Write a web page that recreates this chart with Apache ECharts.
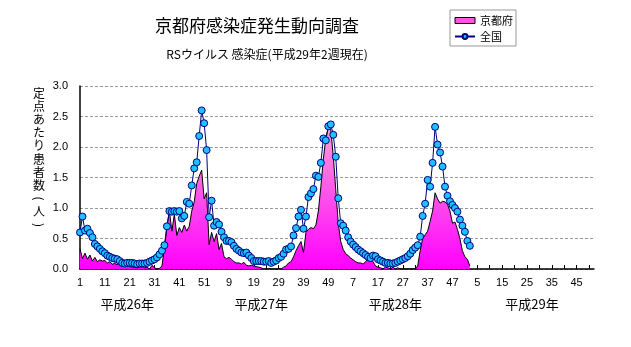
<!DOCTYPE html>
<html><head><meta charset="utf-8">
<script src="https://cdn.jsdelivr.net/npm/echarts/dist/echarts.min.js"></script>
<style>html,body{margin:0;padding:0;background:#fff}#c{width:631px;height:347px}</style>
</head><body><div id="c"></div>
<script>
// ---- data ----
const weeksPerYear = [52, 52, 52, 52];            // 平成26年..平成29年
const yearLabels = ['平成26年', '平成27年', '平成28年', '平成29年'];
const yearLabelIndex = [19, 73, 127, 182];        // category index where each year label sits
const yTicks = [0, 0.5, 1.0, 1.5, 2.0, 2.5, 3.0];
const yNameChars = ['定','点','あ','た','り','患','者','数','(','人',')'];

const national2014 = [0.60,0.86,0.63,0.66,0.59,0.52,0.41,0.37,0.33,0.29,
  0.26,0.22,0.20,0.18,0.17,0.16,0.13,0.10,0.09,0.10,
  0.10,0.10,0.09,0.08,0.09,0.09,0.09,0.10,0.12,0.14,
  0.16,0.19,0.24,0.30,0.39,0.70,0.95,0.94,0.95,0.94,
  0.95,0.83,0.87,1.10,1.07,1.37,1.65,1.75,2.18,2.60,
  2.39,1.95];
const national2015 = [0.85,1.12,0.71,0.77,0.73,0.61,0.52,0.46,0.46,0.44,
  0.38,0.33,0.30,0.27,0.26,0.27,0.22,0.18,0.13,0.13,
  0.13,0.13,0.12,0.12,0.13,0.10,0.12,0.14,0.18,0.20,
  0.25,0.32,0.33,0.37,0.55,0.67,0.86,0.97,0.66,0.86,
  1.18,1.24,1.31,1.53,1.51,1.74,2.14,2.11,2.34,2.37,
  2.20,1.84];
const national2016 = [1.16,0.75,0.71,0.63,0.52,0.45,0.40,0.36,0.32,0.29,
  0.26,0.23,0.20,0.18,0.22,0.21,0.16,0.14,0.12,0.10,
  0.10,0.09,0.09,0.10,0.12,0.14,0.16,0.18,0.21,0.25,
  0.31,0.35,0.39,0.53,0.87,1.07,1.46,1.35,1.74,2.33,
  2.04,1.91,1.68,1.35,1.20,1.11,1.05,1.00,0.94,0.81,
  0.71,0.61];
const national2017 = [0.46,0.38];

const kyoto2014 = [0.33,0.17,0.26,0.16,0.23,0.13,0.19,0.12,0.15,0.13,
  0.14,0.10,0.12,0.08,0.09,0.07,0.16,0.05,0.04,0.05,
  0.04,0.03,0.03,0.02,0.03,0.04,0.02,0.03,0.00,0.06,
  0.02,0.00,0.01,0.05,0.35,0.70,0.95,0.62,0.90,0.55,
  0.68,0.60,0.72,0.62,0.70,0.95,1.10,1.40,1.52,1.62,
  1.15,1.25];
const kyoto2015 = [0.40,0.60,0.45,0.58,0.32,0.42,0.20,0.17,0.19,0.16,
  0.12,0.10,0.10,0.08,0.11,0.06,0.05,0.06,0.05,0.04,
  0.03,0.02,0.00,0.00,0.01,0.00,0.00,0.00,0.00,0.00,
  0.03,0.05,0.10,0.12,0.20,0.30,0.38,0.45,0.27,0.60,
  0.65,0.68,0.66,0.72,0.95,1.35,1.80,2.15,2.32,2.28,
  1.85,1.30];
const kyoto2016 = [0.75,0.45,0.32,0.25,0.22,0.18,0.15,0.12,0.10,0.10,
  0.08,0.12,0.17,0.20,0.12,0.05,0.03,0.02,0.00,0.03,
  0.02,0.00,0.03,0.00,0.02,0.00,0.00,0.00,0.00,0.00,
  0.00,0.00,0.05,0.30,0.50,0.56,0.62,0.78,0.95,1.25,
  1.15,1.08,1.11,1.10,1.06,0.95,0.75,0.77,0.65,0.50,
  0.30,0.20];
const kyoto2017 = [0.16,0.05];

// ---- build ----
const categories = [];
weeksPerYear.forEach(n => { for (let w = 1; w <= n; w++) categories.push(String(w)); });
const yearAxisData = categories.map(() => '');
yearLabelIndex.forEach((idx, k) => { yearAxisData[idx] = yearLabels[k]; });
const national = [].concat(national2014, national2015, national2016, national2017);
const kyoto = [].concat(kyoto2014, kyoto2015, kyoto2016, kyoto2017);

const JP = '"Noto Sans CJK JP", "Noto Sans", sans-serif';
const yNameGraphics = yNameChars.map((ch, k) => ({
  type: 'text', x: 39, y: 93 + k * 13.2,
  rotation: (ch === '(' || ch === ')') ? -Math.PI / 2 : 0,
  style: {text: ch, font: '12px ' + JP, fill: '#000', textAlign: 'center', textVerticalAlign: 'middle'}
}));

const chart = echarts.init(document.getElementById('c'), null, {renderer: 'canvas'});
chart.setOption({
  animation: false,
  backgroundColor: '#fff',
  textStyle: {fontFamily: JP, color: '#000'},
  grid: {left: 80, right: 37, top: 86, bottom: 78, outerBoundsMode: 'none'},
  legend: {
    orient: 'vertical', left: 450, top: 10,
    padding: [5, 3, 4, 4], itemGap: 5, itemWidth: 20, itemHeight: 6,
    borderColor: '#999', borderWidth: 1, backgroundColor: '#fff',
    textStyle: {fontSize: 11, fontFamily: JP, color: '#000'},
    data: [
      {name: '京都府', icon: 'rect', itemStyle: {color: '#FF55DD', borderColor: '#000', borderWidth: 1}},
      {name: '全国'}
    ]
  },
  graphic: [
    {type: 'text', x: 257, y: 26, style: {text: '京都府感染症発生動向調査', font: '17px ' + JP, fill: '#000', textAlign: 'center', textVerticalAlign: 'middle'}},
    {type: 'text', x: 267, y: 54, style: {text: 'RSウイルス 感染症(平成29年2週現在)', font: '12px ' + JP, fill: '#000', textAlign: 'center', textVerticalAlign: 'middle'}}
  ].concat(yNameGraphics),
  xAxis: [
    {
      type: 'category', data: categories, boundaryGap: false,
      axisLine: {show: true, lineStyle: {color: '#000', width: 1.5}},
      axisTick: {show: true, inside: true, length: 4, interval: 4, lineStyle: {color: '#000'}},
      axisLabel: {interval: 9, fontSize: 11, margin: 8, color: '#000', fontFamily: 'Liberation Sans'},
      splitLine: {show: false}
    },
    {
      type: 'category', data: yearAxisData, boundaryGap: false, position: 'bottom', offset: 21,
      axisLine: {show: false}, axisTick: {show: false}, splitLine: {show: false},
      axisLabel: {interval: 0, fontSize: 13, margin: 8, color: '#000', fontFamily: JP}
    }
  ],
  yAxis: {
    type: 'value', min: yTicks[0], max: yTicks[yTicks.length - 1], interval: yTicks[1] - yTicks[0],
    axisLine: {show: true, lineStyle: {color: '#000', width: 1.5}},
    axisTick: {show: false},
    axisLabel: {formatter: v => v.toFixed(1), fontSize: 11, margin: 12, color: '#000', fontFamily: 'Liberation Sans'},
    splitLine: {show: true, lineStyle: {color: '#999', type: [3, 2], width: 1}}
  },
  series: [
    {
      name: '京都府', type: 'line', data: kyoto, symbol: 'none', z: 1,
      itemStyle: {color: '#FF55DD'},
      lineStyle: {color: '#000', width: 1},
      areaStyle: {opacity: 1, color: {type: 'linear', x: 0, y: 0, x2: 0, y2: 1,
        colorStops: [{offset: 0, color: '#FF9ED8'}, {offset: 1, color: '#FF00FF'}]}}
    },
    {
      name: '全国', type: 'line', data: national, symbol: 'circle', symbolSize: 7, showAllSymbol: true, z: 2,
      lineStyle: {color: '#000080', width: 1},
      itemStyle: {color: '#1EC0FF', borderColor: '#000080', borderWidth: 1}
    }
  ]
});
</script>
</body></html>
